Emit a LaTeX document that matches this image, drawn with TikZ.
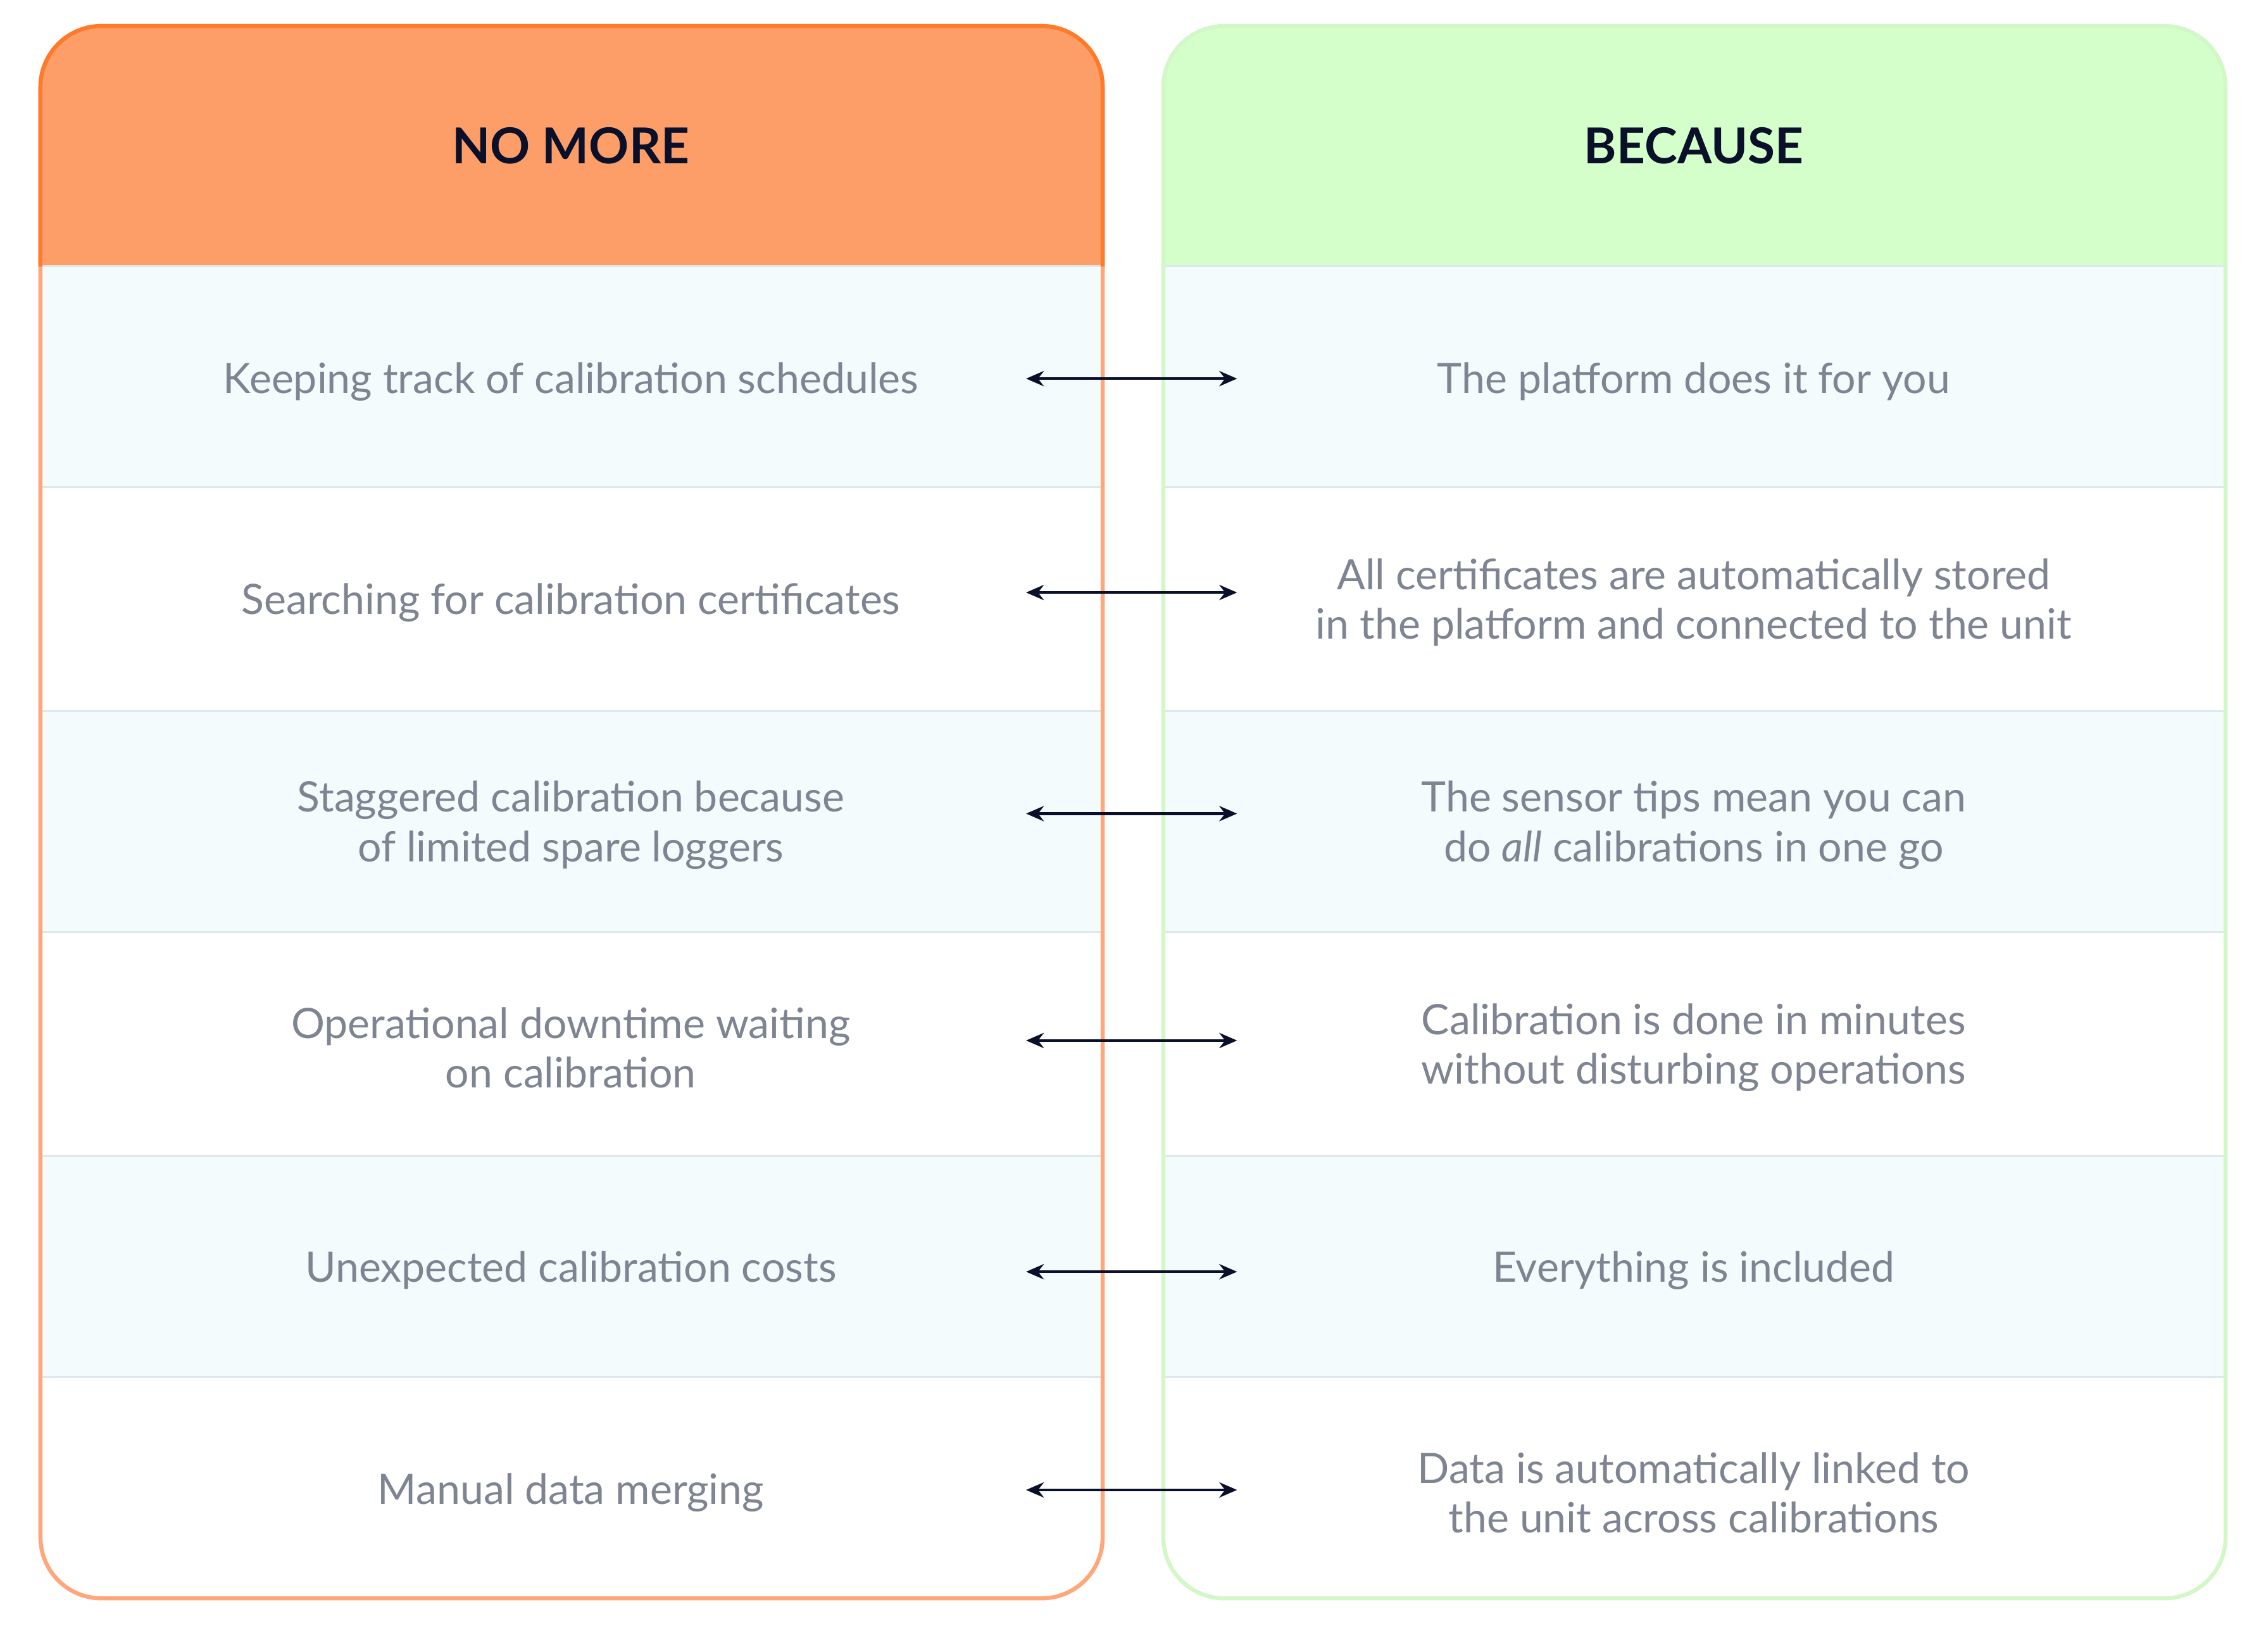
\documentclass[tikz,border=0pt]{standalone}
\usepackage{fontspec}
\setmainfont{Lato}
\usetikzlibrary{arrows.meta}
\definecolor{headorange}{HTML}{FD9E68}
\definecolor{lineorange}{HTML}{FF7A2A}
\definecolor{softorange}{HTML}{FFA77A}
\definecolor{headgreen}{HTML}{D4FFCA}
\definecolor{linegreen}{HTML}{D2F8C8}
\definecolor{rowblue}{HTML}{F3FBFD}
\definecolor{rowline}{HTML}{DDE9ED}
\definecolor{textgrey}{HTML}{7E8491}
\definecolor{inkdark}{HTML}{0A0F2A}
\tikzset{
  celltext/.style={text=textgrey, font=\fontsize{16.5}{19.5}\selectfont, align=center},
  headtext/.style={text=inkdark, font=\fontsize{19.5}{22}\bfseries\selectfont},
  linkarrow/.style={draw=inkdark, line width=1.1pt, {Stealth[length=7pt,width=6pt]}-{Stealth[length=7pt,width=6pt]}}
}
\begin{document}
\begin{tikzpicture}[x=0.02cm,y=-0.02cm]
    \useasboundingbox (0,0) rectangle (1568,1143);
    \fill[white] (0,0) rectangle (1568,1143);

    % left panel
    \begin{scope}
    	\clip[rounded corners=24] (28,18) rectangle (763,1106);
    	\fill[white] (28,18) rectangle (763,1106);
    	\fill[headorange] (28,18) rectangle (763,184);
    	\foreach \top/\bot in {184/337, 492/645, 800/953}
    		\fill[rowblue] (28,\top) rectangle (763,\bot);
    	\foreach \y in {184,337,492,645,800,953}
    		\draw[rowline, line width=0.8pt] (28,\y) -- (763,\y);
    \end{scope}
    \draw[softorange, line width=1.6pt, rounded corners=24] (28,18) rectangle (763,1106);
    \begin{scope}
    	\clip (0,0) rectangle (800,184);
    	\draw[lineorange, line width=1.6pt, rounded corners=24] (28,18) rectangle (763,1106);
    \end{scope}

    % right panel
    \begin{scope}
    	\clip[rounded corners=24] (805,18) rectangle (1540,1106);
    	\fill[white] (805,18) rectangle (1540,1106);
    	\fill[headgreen] (805,18) rectangle (1540,184);
    	\foreach \top/\bot in {184/337, 492/645, 800/953}
    		\fill[rowblue] (805,\top) rectangle (1540,\bot);
    	\foreach \y in {184,337,492,645,800,953}
    		\draw[rowline, line width=0.8pt] (805,\y) -- (1540,\y);
    \end{scope}
    \draw[linegreen, line width=1.6pt, rounded corners=24] (805,18) rectangle (1540,1106);

    % headers
    \node[headtext] (nomore) at (395,101) {NO MORE};
    \node[headtext] (because) at (1172,101) {BECAUSE};

    % rows
    \node[celltext] (old1) at (395,264) {Keeping track of calibration schedules};
    \node[celltext] (new1) at (1172,264) {The platform does it for you};
    \node[celltext] (old2) at (395,417) {Searching for calibration certificates};
    \node[celltext] (new2) at (1172,417) {All certificates are automatically stored\\in the platform and connected to the unit};
    \node[celltext] (old3) at (395,571) {Staggered calibration because\\of limited spare loggers};
    \node[celltext] (new3) at (1172,571) {The sensor tips mean you can\\do \textit{all} calibrations in one go};
    \node[celltext] (old4) at (395,725) {Operational downtime waiting\\on calibration};
    \node[celltext] (new4) at (1172,725) {Calibration is done in minutes\\without disturbing operations};
    \node[celltext] (old5) at (395,879) {Unexpected calibration costs};
    \node[celltext] (new5) at (1172,879) {Everything is included};
    \node[celltext] (old6) at (395,1033) {Manual data merging};
    \node[celltext] (new6) at (1172,1033) {Data is automatically linked to\\the unit across calibrations};

    % arrows
    \foreach \i/\y in {1/262, 2/410, 3/563, 4/720, 5/880, 6/1031} {
    	\coordinate (la\i) at (710,\y);
    	\coordinate (ra\i) at (856,\y);
    	\draw[linkarrow] (la\i) -- (ra\i);
    }
\end{tikzpicture}
\end{document}
